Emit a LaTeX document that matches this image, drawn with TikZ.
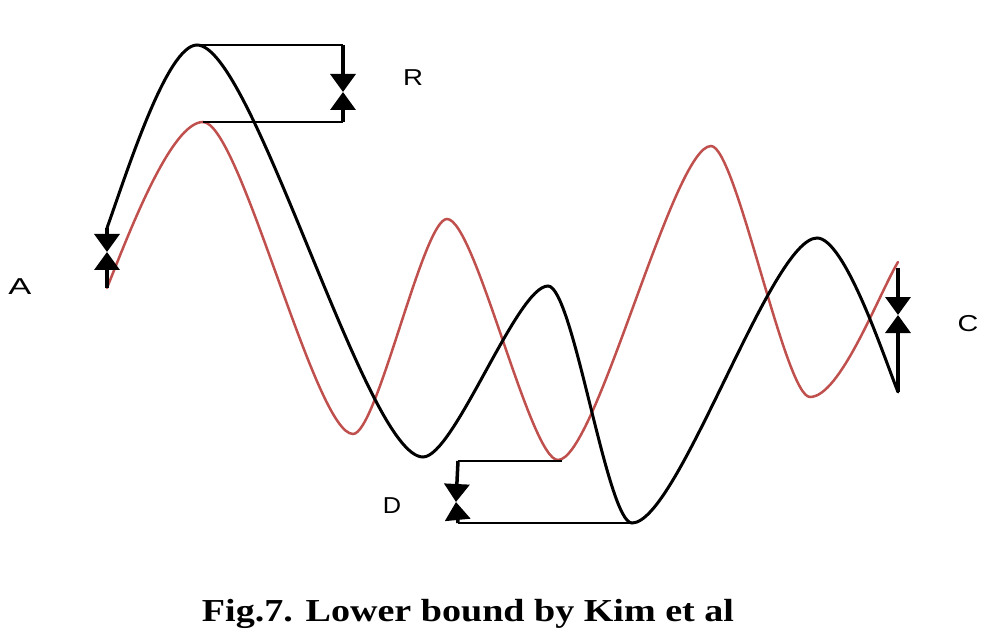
\documentclass[tikz,border=0pt]{standalone}
\usepackage{fontspec}
\setmainfont{Liberation Serif}
\newfontfamily\labelfont{Liberation Sans}
\usetikzlibrary{arrows.meta}
\definecolor{curvered}{RGB}{192,80,77}
\tikzset{
  blackcurve/.style={line width=3pt, black, line cap=round},
  redcurve/.style={line width=2.5pt, curvered, line cap=round},
  bracketline/.style={line width=2pt, black},
  gaparrow/.style={line width=3.5pt, black, -{Triangle[width=25pt,length=18pt]}},
  lbl/.style={font=\labelfont\fontsize{23}{26}\selectfont, inner sep=0pt},
}
\begin{document}
\begin{tikzpicture}[x=1pt,y=-1pt]
\fill[white] (0,0) rectangle (998,644);
\useasboundingbox (0,0) rectangle (998,644);
% black curve extrema
\coordinate (b0) at (107,228);
\coordinate (b1) at (197,45);
\coordinate (b2) at (423,457);
\coordinate (b3) at (548,286);
\coordinate (b4) at (632,523);
\coordinate (b5) at (817,238);
\coordinate (b6) at (898,392);
% red curve extrema
\coordinate (r0) at (107,288);
\coordinate (r1) at (203,122);
\coordinate (r2) at (353,434);
\coordinate (r3) at (447,219);
\coordinate (r4) at (558,460);
\coordinate (r5) at (711,146);
\coordinate (r6) at (810,397);
\coordinate (r7) at (898,262);
% red curve
\draw[redcurve] (r0) .. controls (129,233) and (171,122) .. (r1)
  .. controls (240,122) and (315,434) .. (r2)
  .. controls (377,434) and (423,219) .. (r3)
  .. controls (475,219) and (530,460) .. (r4)
  .. controls (596,460) and (673,146) .. (r5)
  .. controls (736,146) and (785,397) .. (r6)
  .. controls (840,397) and (878,296) .. (r7);
% black curve
\draw[blackcurve] (b0) .. controls (127,172) and (167,45) .. (b1)
  .. controls (253,45) and (366,457) .. (b2)
  .. controls (454,457) and (517,286) .. (b3)
  .. controls (573,286) and (607,523) .. (b4)
  .. controls (678,523) and (771,238) .. (b5)
  .. controls (845,238) and (885,360) .. (b6);
% A
\coordinate (Amid) at (107,252);
\draw[gaparrow] (b0) -- (Amid);
\draw[gaparrow] (r0) -- (Amid);
\node[lbl] (A) at (20,287) {\scalebox{1.5}[1]{A}};
% B
\coordinate (Btop) at (343,45);
\coordinate (Bbot) at (343,122);
\coordinate (Bmid) at (343,92);
\draw[bracketline] (b1) -- (Btop);
\draw[bracketline] (r1) -- (Bbot);
\draw[gaparrow] (Btop) -- (Bmid);
\draw[gaparrow] (Bbot) -- (Bmid);
\node[lbl] (R) at (413,78) {\scalebox{1.2}[1]{R}};
% C
\coordinate (Ctop) at (898,268);
\coordinate (Cmid) at (898,315);
\draw[gaparrow] (Ctop) -- (Cmid);
\draw[gaparrow] (b6) -- (Cmid);
\node[lbl] (C) at (968,324) {\scalebox{1.25}[1]{C}};
% D
\coordinate (Dtop) at (458,461);
\coordinate (Dbot) at (458,523);
\coordinate (Dmid) at (456,502);
\coordinate (Dr) at (562,461);
\draw[bracketline] (Dr) -- (Dtop);
\draw[bracketline] (b4) -- (Dbot);
\draw[gaparrow] (Dtop) -- (Dmid);
\draw[gaparrow] (Dbot) -- (Dmid);
\node[lbl] (D) at (392,506) {\scalebox{1.1}[1]{D}};
% caption
\node[anchor=base, inner sep=0pt, font=\fontsize{32}{36}\selectfont\bfseries] (cap) at (468,621) {\scalebox{1.19}[1]{Fig.7. Lower bound by Kim et al}};
\end{tikzpicture}
\end{document}
